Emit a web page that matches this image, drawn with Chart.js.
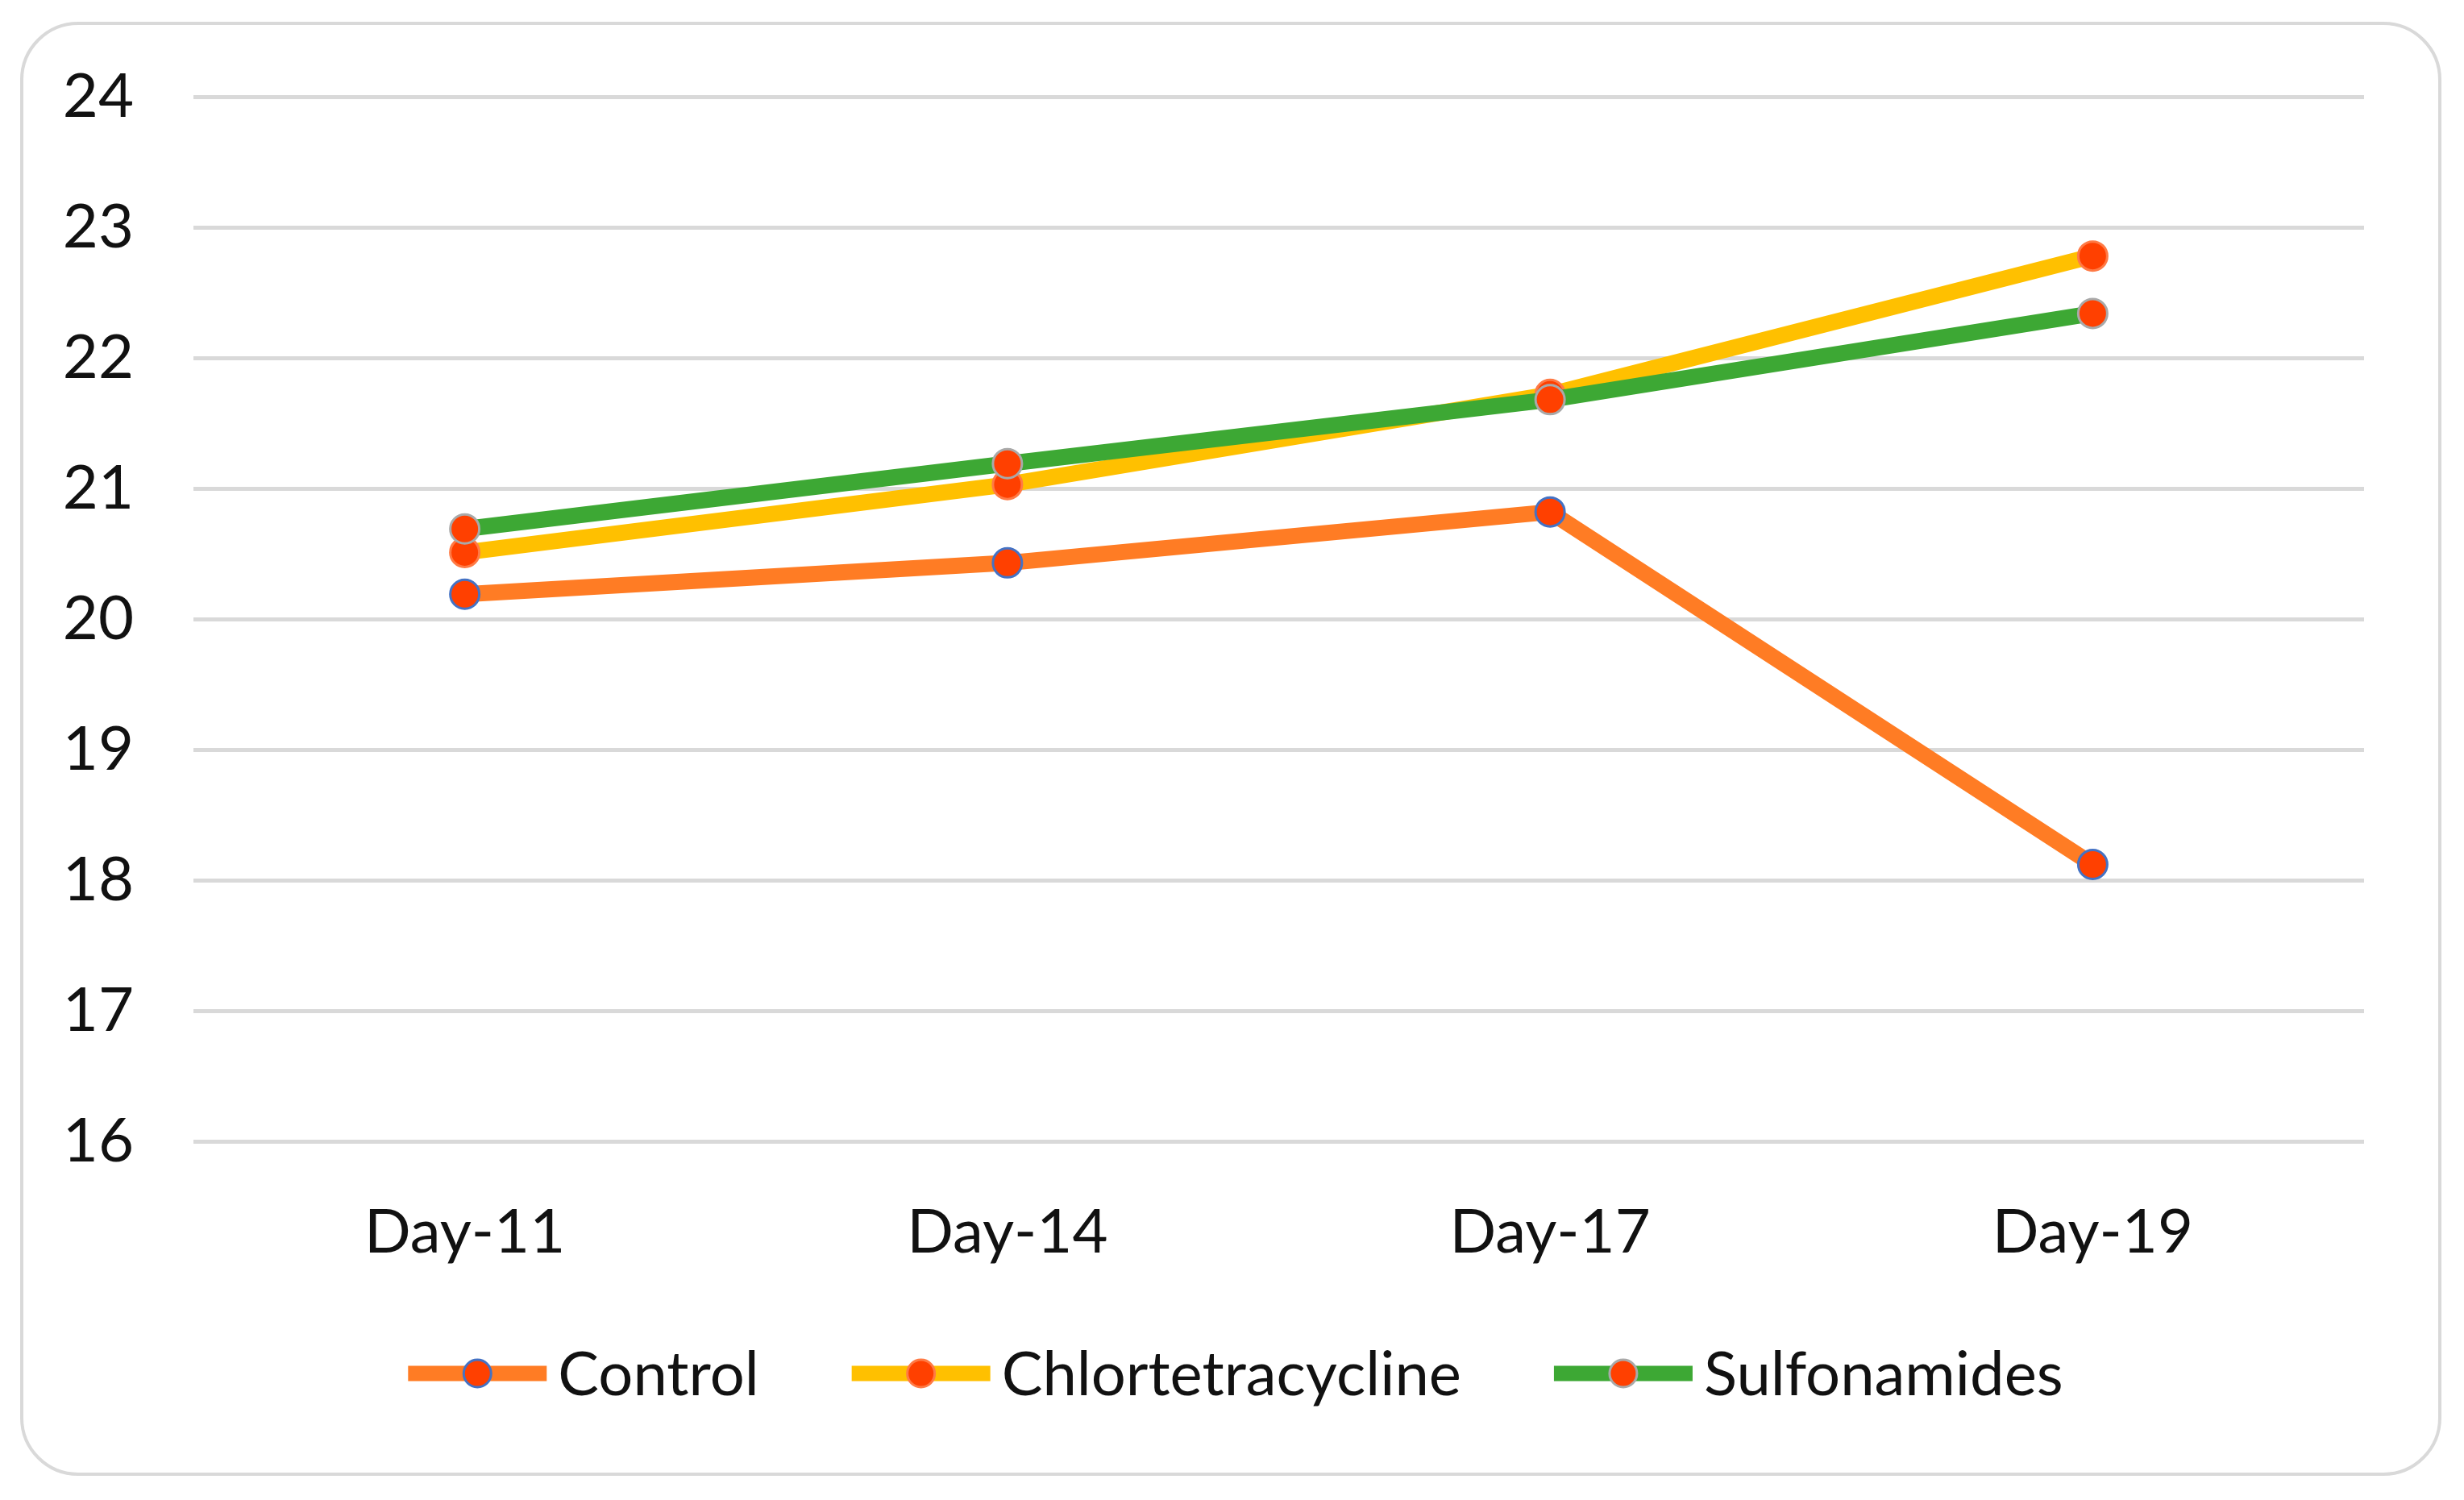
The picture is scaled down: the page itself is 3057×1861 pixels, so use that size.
<!DOCTYPE html>
<html>
<head>
<meta charset="utf-8">
<script src="https://cdn.jsdelivr.net/npm/chart.js@4.4.1/dist/chart.umd.min.js"></script>
<style>
  html, body { margin: 0; padding: 0; background: #ffffff; }
  canvas { display: block; }
</style>
</head>
<body>
<canvas id="chart" width="3057" height="1861"></canvas>
<script>
const days = ['Day-11', 'Day-14', 'Day-17', 'Day-19'];
const control = [20.19, 20.43, 20.82, 18.12];
const chlortetracycline = [20.51, 21.03, 21.72, 22.78];
const sulfonamides = [20.69, 21.19, 21.68, 22.34];
const yMin = 16;
const yMax = 24;

const FONT = 'Lato, "Open Sans", sans-serif';
const markerFill = '#FF4000';

// rounded frame around the whole chart
const framePlugin = {
    id: 'frame',
    beforeDraw(chart) {
        const ctx = chart.ctx;
        const x = 27, y = 29, w = 3000, h = 1800, r = 70;
        ctx.save();
        ctx.fillStyle = '#ffffff';
        ctx.fillRect(0, 0, chart.width, chart.height);
        ctx.beginPath();
        ctx.roundRect(x, y, w, h, r);
        ctx.lineWidth = 4;
        ctx.strokeStyle = '#D9D9D9';
        ctx.stroke();
        ctx.restore();
    }
};

// Excel style legend: line sample with the marker in the middle
const lineLegend = {
    id: 'lineLegend',
    afterDraw(chart) {
        const ctx = chart.ctx;
        const sampleW = 172;
        const textGap = 14;
        const itemGap = 115;
        const centerX = 1533;
        const centerY = 1704;
        ctx.save();
        ctx.font = '76px ' + FONT;
        ctx.textBaseline = 'middle';
        const sets = chart.data.datasets;
        const widths = sets.map(ds => ctx.measureText(ds.label).width);
        let total = 0;
        widths.forEach(w => total += sampleW + textGap + w);
        total += itemGap * (sets.length - 1);
        let x = centerX - total / 2;
        sets.forEach((ds, i) => {
            ctx.beginPath();
            ctx.moveTo(x, centerY);
            ctx.lineTo(x + sampleW, centerY);
            ctx.lineWidth = 19;
            ctx.strokeStyle = ds.borderColor;
            ctx.stroke();
            ctx.beginPath();
            ctx.arc(x + sampleW / 2, centerY, 17, 0, Math.PI * 2);
            ctx.fillStyle = ds.pointBackgroundColor;
            ctx.fill();
            ctx.lineWidth = ds.pointBorderWidth;
            ctx.strokeStyle = ds.pointBorderColor;
            ctx.stroke();
            ctx.fillStyle = '#111111';
            ctx.fillText(ds.label, x + sampleW + textGap, centerY + 2);
            x += sampleW + textGap + widths[i] + itemGap;
        });
        ctx.restore();
    }
};

function series(label, values, color, pointBorder, order) {
    return {
        label: label,
        data: values,
        borderColor: color,
        backgroundColor: color,
        borderWidth: 20,
        pointRadius: 18,
        pointHoverRadius: 18,
        pointBackgroundColor: markerFill,
        pointBorderColor: pointBorder,
        pointBorderWidth: 3,
        tension: 0,
        order: order
    };
}

new Chart(document.getElementById('chart'), {
    type: 'line',
    data: {
        labels: days,
        datasets: [
            series('Control', control, '#FF7C24', '#4472C4', 3),
            series('Chlortetracycline', chlortetracycline, '#FFC000', '#FF7A45', 2),
            series('Sulfonamides', sulfonamides, '#3DA834', '#A9A9A9', 1)
        ]
    },
    options: {
        responsive: false,
        devicePixelRatio: 1,
        animation: false,
        layout: {
            padding: { left: 0, right: 124, top: 120, bottom: 245 }
        },
        scales: {
            x: {
                offset: true,
                grid: { display: false, drawTicks: false },
                border: { display: false },
                ticks: {
                    padding: 68,
                    color: '#111111',
                    font: { family: FONT, size: 76 }
                },
                afterFit(scale) { scale.height = 200; }
            },
            y: {
                min: yMin,
                max: yMax,
                grid: { color: '#D9D9D9', lineWidth: 5, drawTicks: false },
                border: { display: false },
                ticks: {
                    stepSize: 1,
                    padding: 74,
                    color: '#111111',
                    font: { family: FONT, size: 76 }
                },
                afterFit(scale) { scale.width = 240; }
            }
        },
        plugins: {
            legend: { display: false },
            tooltip: { enabled: false }
        }
    },
    plugins: [framePlugin, lineLegend]
});
</script>
</body>
</html>
